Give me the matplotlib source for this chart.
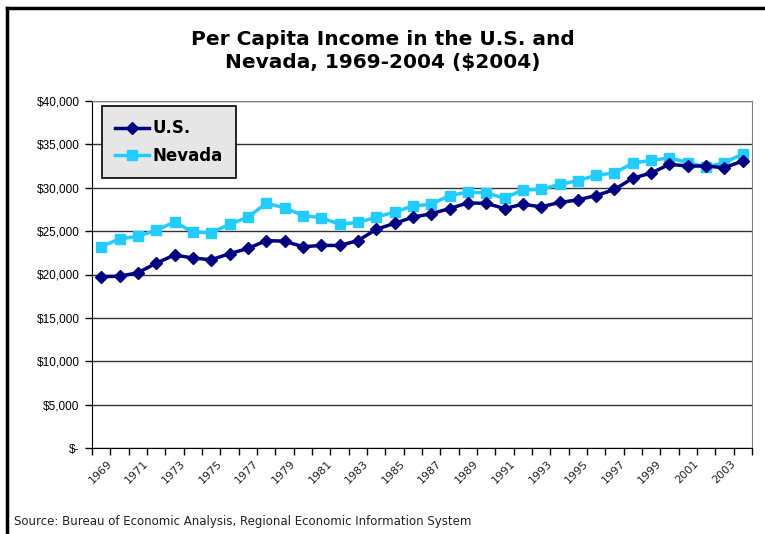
import matplotlib.pyplot as plt
from matplotlib.ticker import FuncFormatter, FixedLocator, NullFormatter

# data
years = list(range(1969, 2005))
us = [19750, 19800, 20200, 21300, 22250, 21900, 21700, 22400, 23000, 23900,
      23850, 23200, 23350, 23350, 23900, 25200, 25900, 26600, 27000, 27600,
      28250, 28200, 27600, 28100, 27800, 28300, 28600, 29100, 29800, 31100,
      31700, 32700, 32500, 32500, 32300, 33100]
nevada = [23200, 24100, 24400, 25100, 26050, 24900, 24800, 25800, 26600, 28200,
          27700, 26800, 26550, 25800, 26000, 26600, 27200, 27900, 28100, 29100,
          29500, 29400, 28800, 29750, 29800, 30400, 30800, 31450, 31700, 32850,
          33150, 33450, 32900, 32400, 32900, 33900]
yticks = [0, 5000, 10000, 15000, 20000, 25000, 30000, 35000, 40000]

plt.rcParams['font.family'] = ['Liberation Sans', 'DejaVu Sans']

fig = plt.figure(figsize=(7.65, 5.34), dpi=100)
ax = fig.add_axes([92 / 765, 1 - 448 / 534, 660 / 765, 347 / 534])

x = list(range(len(years)))
ax.plot(x, us, color='#000080', linewidth=2.5, marker='D', markersize=6.5, label='U.S.', zorder=4)
ax.plot(x, nevada, color='#22CCFF', linewidth=2.5, marker='s', markersize=7.5, label='Nevada', zorder=3)

ax.set_xlim(-0.5, len(years) - 0.5)
ax.set_ylim(0, 40000)
ax.set_yticks(yticks)
ax.yaxis.set_major_formatter(FuncFormatter(lambda v, p: '$-' if v == 0 else f'${v:,.0f}'))
ax.grid(axis='y', color='#333333', linewidth=1)
ax.set_axisbelow(True)

# ticks between categories, labels on every other year
ax.xaxis.set_major_locator(FixedLocator([i - 0.5 for i in range(len(years) + 1)]))
ax.xaxis.set_major_formatter(NullFormatter())
for i in range(0, len(years), 2):
    ax.text(i + 0.3, -1200, str(years[i]), rotation=45, ha='right', va='top',
            rotation_mode='anchor', fontsize=8, family='DejaVu Sans', color='#222222')
ax.tick_params(axis='x', length=5, direction='out', width=1)
ax.tick_params(axis='y', length=5, direction='out', width=1, labelsize=8.5, pad=4)

for s in ['top', 'right']:
    ax.spines[s].set_color('#808080')
for s in ['left', 'bottom']:
    ax.spines[s].set_color('black')

leg = ax.legend(loc='upper left', bbox_to_anchor=(10 / 660, 1 - 5 / 347), fancybox=False,
                edgecolor='black', facecolor='#E6E6E6', framealpha=1,
                prop={'weight': 'bold', 'size': 12, 'family': 'DejaVu Sans'}, handlelength=2.0,
                borderpad=0.8, labelspacing=0.55, handletextpad=0.25,
                borderaxespad=0)
leg.get_frame().set_linewidth(1.2)

fig.text(0.5, 1 - 51 / 534, 'Per Capita Income in the U.S. and\nNevada, 1969-2004 ($2004)',
         ha='center', va='center', fontsize=14.5, weight='bold', family='DejaVu Sans',
         linespacing=1.3)
fig.text(14 / 765, 1 - 521 / 534, 'Source: Bureau of Economic Analysis, Regional Economic Information System',
         ha='left', va='center', fontsize=8.5, family='DejaVu Sans', color='#222222')

# outer chart border (top and left visible)
fig.add_artist(plt.Line2D([7 / 765, 7 / 765], [0, 1 - 8 / 534], color='black', linewidth=2.5,
                          transform=fig.transFigure))
fig.add_artist(plt.Line2D([7 / 765, 1], [1 - 8 / 534, 1 - 8 / 534], color='black', linewidth=2.5,
                          transform=fig.transFigure))

fig.savefig('out.png', dpi=100)
